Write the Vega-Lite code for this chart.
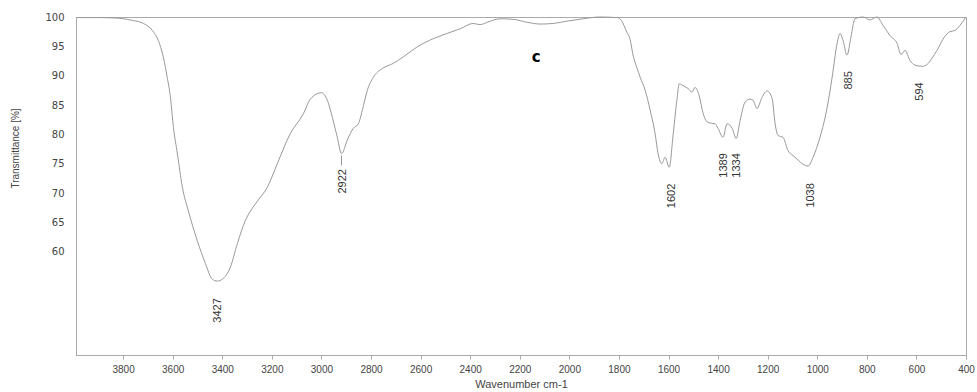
{
  "$schema": "https://vega.github.io/schema/vega-lite/v6.json",
  "autosize": "none",
  "width": 890,
  "height": 338,
  "padding": {"left": 76, "top": 17, "right": 11, "bottom": 37},
  "background": "white",
  "config": {
    "view": {"stroke": "#aaaaaa", "strokeWidth": 1},
    "font": "Liberation Sans"
  },
  "datasets": {
    "spectrum": [
      {"wn": 3988, "t": 99.9}, {"wn": 3900, "t": 99.9}, {"wn": 3820, "t": 99.8}, {"wn": 3783, "t": 99.6},
      {"wn": 3759, "t": 99.4}, {"wn": 3718, "t": 98.9}, {"wn": 3682, "t": 97.7}, {"wn": 3658, "t": 96.0},
      {"wn": 3638, "t": 93.2}, {"wn": 3622, "t": 89.7}, {"wn": 3609, "t": 86.3}, {"wn": 3597, "t": 81.2},
      {"wn": 3581, "t": 76.7}, {"wn": 3561, "t": 71.0}, {"wn": 3537, "t": 67.0}, {"wn": 3501, "t": 61.9},
      {"wn": 3468, "t": 58.0}, {"wn": 3440, "t": 55.3}, {"wn": 3420, "t": 55.0}, {"wn": 3400, "t": 55.3},
      {"wn": 3368, "t": 57.3}, {"wn": 3339, "t": 61.4}, {"wn": 3307, "t": 65.3}, {"wn": 3279, "t": 67.4},
      {"wn": 3255, "t": 68.8}, {"wn": 3218, "t": 71.0}, {"wn": 3178, "t": 75.0}, {"wn": 3126, "t": 80.1},
      {"wn": 3073, "t": 83.5}, {"wn": 3045, "t": 86.0}, {"wn": 3000, "t": 87.1}, {"wn": 2976, "t": 85.8},
      {"wn": 2956, "t": 82.9}, {"wn": 2936, "t": 79.5}, {"wn": 2919, "t": 76.7}, {"wn": 2896, "t": 79.0},
      {"wn": 2872, "t": 81.0}, {"wn": 2851, "t": 81.8}, {"wn": 2835, "t": 84.1}, {"wn": 2815, "t": 87.5},
      {"wn": 2791, "t": 89.7}, {"wn": 2755, "t": 91.2}, {"wn": 2710, "t": 92.1}, {"wn": 2670, "t": 93.2},
      {"wn": 2614, "t": 94.9}, {"wn": 2549, "t": 96.3}, {"wn": 2493, "t": 97.2}, {"wn": 2440, "t": 98.0},
      {"wn": 2388, "t": 98.9}, {"wn": 2360, "t": 98.7}, {"wn": 2331, "t": 99.1}, {"wn": 2279, "t": 99.7},
      {"wn": 2226, "t": 99.6}, {"wn": 2170, "t": 99.1}, {"wn": 2118, "t": 98.8}, {"wn": 2065, "t": 98.9},
      {"wn": 2009, "t": 99.3}, {"wn": 1944, "t": 99.7}, {"wn": 1876, "t": 100.0}, {"wn": 1807, "t": 99.9},
      {"wn": 1790, "t": 99.4}, {"wn": 1768, "t": 97.4}, {"wn": 1755, "t": 96.2}, {"wn": 1743, "t": 93.5},
      {"wn": 1727, "t": 91.3}, {"wn": 1714, "t": 89.7}, {"wn": 1694, "t": 87.5}, {"wn": 1674, "t": 84.1},
      {"wn": 1654, "t": 80.1}, {"wn": 1642, "t": 76.7}, {"wn": 1627, "t": 75.0}, {"wn": 1614, "t": 76.1},
      {"wn": 1597, "t": 74.4}, {"wn": 1581, "t": 80.1}, {"wn": 1565, "t": 86.3}, {"wn": 1557, "t": 88.6},
      {"wn": 1541, "t": 88.3}, {"wn": 1521, "t": 87.8}, {"wn": 1505, "t": 87.2}, {"wn": 1493, "t": 88.0},
      {"wn": 1477, "t": 86.7}, {"wn": 1460, "t": 83.5}, {"wn": 1440, "t": 82.0}, {"wn": 1412, "t": 81.8},
      {"wn": 1400, "t": 81.0}, {"wn": 1380, "t": 79.5}, {"wn": 1364, "t": 81.8}, {"wn": 1343, "t": 81.0},
      {"wn": 1327, "t": 79.3}, {"wn": 1311, "t": 82.4}, {"wn": 1291, "t": 85.5}, {"wn": 1271, "t": 86.0},
      {"wn": 1259, "t": 85.8}, {"wn": 1243, "t": 84.4}, {"wn": 1223, "t": 86.3}, {"wn": 1202, "t": 87.4},
      {"wn": 1182, "t": 86.1}, {"wn": 1170, "t": 81.8}, {"wn": 1158, "t": 79.8}, {"wn": 1138, "t": 79.5},
      {"wn": 1118, "t": 77.2}, {"wn": 1098, "t": 76.4}, {"wn": 1077, "t": 75.6}, {"wn": 1057, "t": 74.9},
      {"wn": 1037, "t": 74.6}, {"wn": 1017, "t": 76.1}, {"wn": 989, "t": 79.5}, {"wn": 960, "t": 84.6},
      {"wn": 940, "t": 89.7}, {"wn": 920, "t": 95.5}, {"wn": 908, "t": 97.2}, {"wn": 896, "t": 96.0},
      {"wn": 880, "t": 93.5}, {"wn": 864, "t": 96.6}, {"wn": 848, "t": 99.7}, {"wn": 815, "t": 100.0},
      {"wn": 787, "t": 99.5}, {"wn": 759, "t": 100.0}, {"wn": 735, "t": 98.6}, {"wn": 706, "t": 96.8},
      {"wn": 678, "t": 95.5}, {"wn": 662, "t": 93.6}, {"wn": 646, "t": 94.3}, {"wn": 626, "t": 92.6},
      {"wn": 606, "t": 91.8}, {"wn": 577, "t": 91.6}, {"wn": 557, "t": 91.9}, {"wn": 537, "t": 93.0},
      {"wn": 517, "t": 94.3}, {"wn": 493, "t": 96.2}, {"wn": 465, "t": 97.5}, {"wn": 444, "t": 97.7},
      {"wn": 424, "t": 98.6}, {"wn": 400, "t": 100.0}
    ],
    "peaks": [
      {"wn": 3416, "t": 50.0, "label": "3427"},
      {"wn": 2912, "t": 72.0, "label": "2922"},
      {"wn": 1585, "t": 69.5, "label": "1602"},
      {"wn": 1375, "t": 74.7, "label": "1389"},
      {"wn": 1323, "t": 74.7, "label": "1334"},
      {"wn": 1025, "t": 69.6, "label": "1038"},
      {"wn": 872, "t": 89.2, "label": "885"},
      {"wn": 585, "t": 87.3, "label": "594"}
    ],
    "leaders": [
      {"wn": 2919, "t1": 76.4, "t2": 74.7}
    ],
    "tag": [
      {"wn": 2134, "t": 93.1, "text": "c"}
    ]
  },
  "layer": [
    {
      "data": {"name": "spectrum"},
      "mark": {"type": "line", "color": "#999999", "strokeWidth": 1, "interpolate": "monotone"},
      "encoding": {
        "x": {
          "field": "wn", "type": "quantitative",
          "scale": {"domain": [3990, 400], "nice": false, "zero": false},
          "axis": {
            "title": "Wavenumber cm-1",
            "values": [3800, 3600, 3400, 3200, 3000, 2800, 2600, 2400, 2200, 2000, 1800, 1600, 1400, 1200, 1000, 800, 600, 400],
            "format": "d",
            "grid": false,
            "domainColor": "#aaaaaa",
            "tickColor": "#aaaaaa",
            "tickSize": 4,
            "labelPadding": 5,
            "labelFont": "Liberation Sans",
            "labelFontSize": 10,
            "labelColor": "#444444",
            "labelFlush": false,
            "titleFont": "Liberation Sans",
            "titleFontSize": 11,
            "titleFontWeight": "normal",
            "titleColor": "#444444",
            "titlePadding": 4
          }
        },
        "y": {
          "field": "t", "type": "quantitative",
          "scale": {"domain": [42.4, 100], "nice": false, "zero": false},
          "axis": {
            "title": "Transmittance [%]",
            "values": [60, 65, 70, 75, 80, 85, 90, 95, 100],
            "grid": false,
            "ticks": false,
            "domainColor": "#aaaaaa",
            "labelPadding": 12,
            "labelFont": "DejaVu Sans",
            "labelFontSize": 10,
            "labelColor": "#444444",
            "labelFlush": false,
            "titleFont": "Liberation Sans",
            "titleFontSize": 10,
            "titleFontWeight": "normal",
            "titleColor": "#444444",
            "titleX": -61,
            "titleY": 131,
            "titleAngle": -90,
            "titleAlign": "center",
            "titleBaseline": "middle"
          }
        }
      }
    },
    {
      "data": {"name": "leaders"},
      "mark": {"type": "rule", "color": "#999999", "strokeWidth": 1},
      "encoding": {
        "x": {"field": "wn", "type": "quantitative"},
        "y": {"field": "t1", "type": "quantitative"},
        "y2": {"field": "t2"}
      }
    },
    {
      "data": {"name": "peaks"},
      "mark": {"type": "text", "angle": 270, "align": "center", "baseline": "middle", "font": "Liberation Sans", "fontSize": 11, "color": "#333333"},
      "encoding": {
        "x": {"field": "wn", "type": "quantitative"},
        "y": {"field": "t", "type": "quantitative"},
        "text": {"field": "label"}
      }
    },
    {
      "data": {"name": "tag"},
      "mark": {"type": "text", "align": "center", "baseline": "middle", "font": "DejaVu Sans", "fontWeight": "bold", "fontSize": 15, "color": "#000000"},
      "encoding": {
        "x": {"field": "wn", "type": "quantitative"},
        "y": {"field": "t", "type": "quantitative"},
        "text": {"field": "text"}
      }
    }
  ]
}
